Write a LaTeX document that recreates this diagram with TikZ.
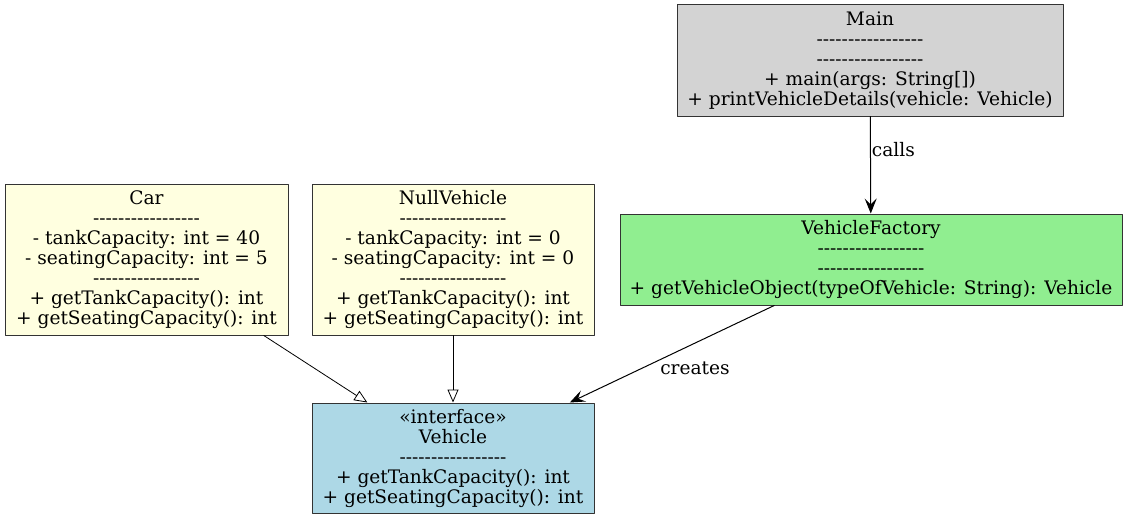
\documentclass[tikz,border=0pt]{standalone}
\usepackage{fontspec}
\setmainfont{DejaVu Serif}[Ligatures=TeXOff]
\usetikzlibrary{arrows.meta}
\tikzset{>=latex}
\tikzset{every text node part/.style={align=center}}
\tikzset{umlbox/.style={draw=black!80, line width=1pt, inner sep=0pt, font=\fontsize{18.6}{20}\selectfont}}
\tikzset{lbl/.style={inner sep=1pt, font=\fontsize{18.6}{20}\selectfont}}
\tikzset{uses/.style={line width=1pt, -{Stealth[length=15pt, width=12pt, inset=6pt]}}}
\tikzset{extends/.style={line width=0.8pt, -{Triangle[open, length=13pt, width=11pt]}}}
\definecolor{mainfill}{HTML}{D3D3D3}
\definecolor{factoryfill}{HTML}{90EE90}
\definecolor{classfill}{HTML}{FFFFE0}
\definecolor{ifacefill}{HTML}{ADD8E6}
\newcommand{\sepline}{-----------------}

\begin{document}
\begin{tikzpicture}[x=1pt, y=-1pt, line cap=round, line join=round]
	\useasboundingbox (0,0) rectangle (1127,519);
	
	% Classes
	\node[umlbox, fill=mainfill, minimum width=386pt, minimum height=111pt] (main) at (870,60.5)
		{Main\\\sepline\\\sepline\\+ main(args: String[])\\+ printVehicleDetails(vehicle: Vehicle)};
	\node[umlbox, fill=factoryfill, minimum width=502pt, minimum height=91pt] (factory) at (871,259.5)
		{VehicleFactory\\\sepline\\\sepline\\+ getVehicleObject(typeOfVehicle: String): Vehicle};
	\node[umlbox, fill=classfill, minimum width=283pt, minimum height=151pt] (car) at (146.5,259.5)
		{Car\\\sepline\\- tankCapacity: int = 40\\- seatingCapacity: int = 5\\\sepline\\+ getTankCapacity(): int\\+ getSeatingCapacity(): int};
	\node[umlbox, fill=classfill, minimum width=282pt, minimum height=151pt] (nullv) at (453,259.5)
		{NullVehicle\\\sepline\\- tankCapacity: int = 0\\- seatingCapacity: int = 0\\\sepline\\+ getTankCapacity(): int\\+ getSeatingCapacity(): int};
	\node[umlbox, fill=ifacefill, minimum width=282pt, minimum height=110pt] (vehicle) at (453,458)
		{«interface»\\Vehicle\\\sepline\\+ getTankCapacity(): int\\+ getSeatingCapacity(): int};
	
	% Relations
	\draw[uses] (main) -- (factory) node[lbl, pos=0.34, anchor=west] {calls};
	\draw[uses] (factory) -- (vehicle) node[lbl, pos=0.5, xshift=23pt, yshift=-14pt] {creates};
	\draw[extends] (car) -- (vehicle);
	\draw[extends] (nullv) -- (vehicle);
\end{tikzpicture}
\end{document}
